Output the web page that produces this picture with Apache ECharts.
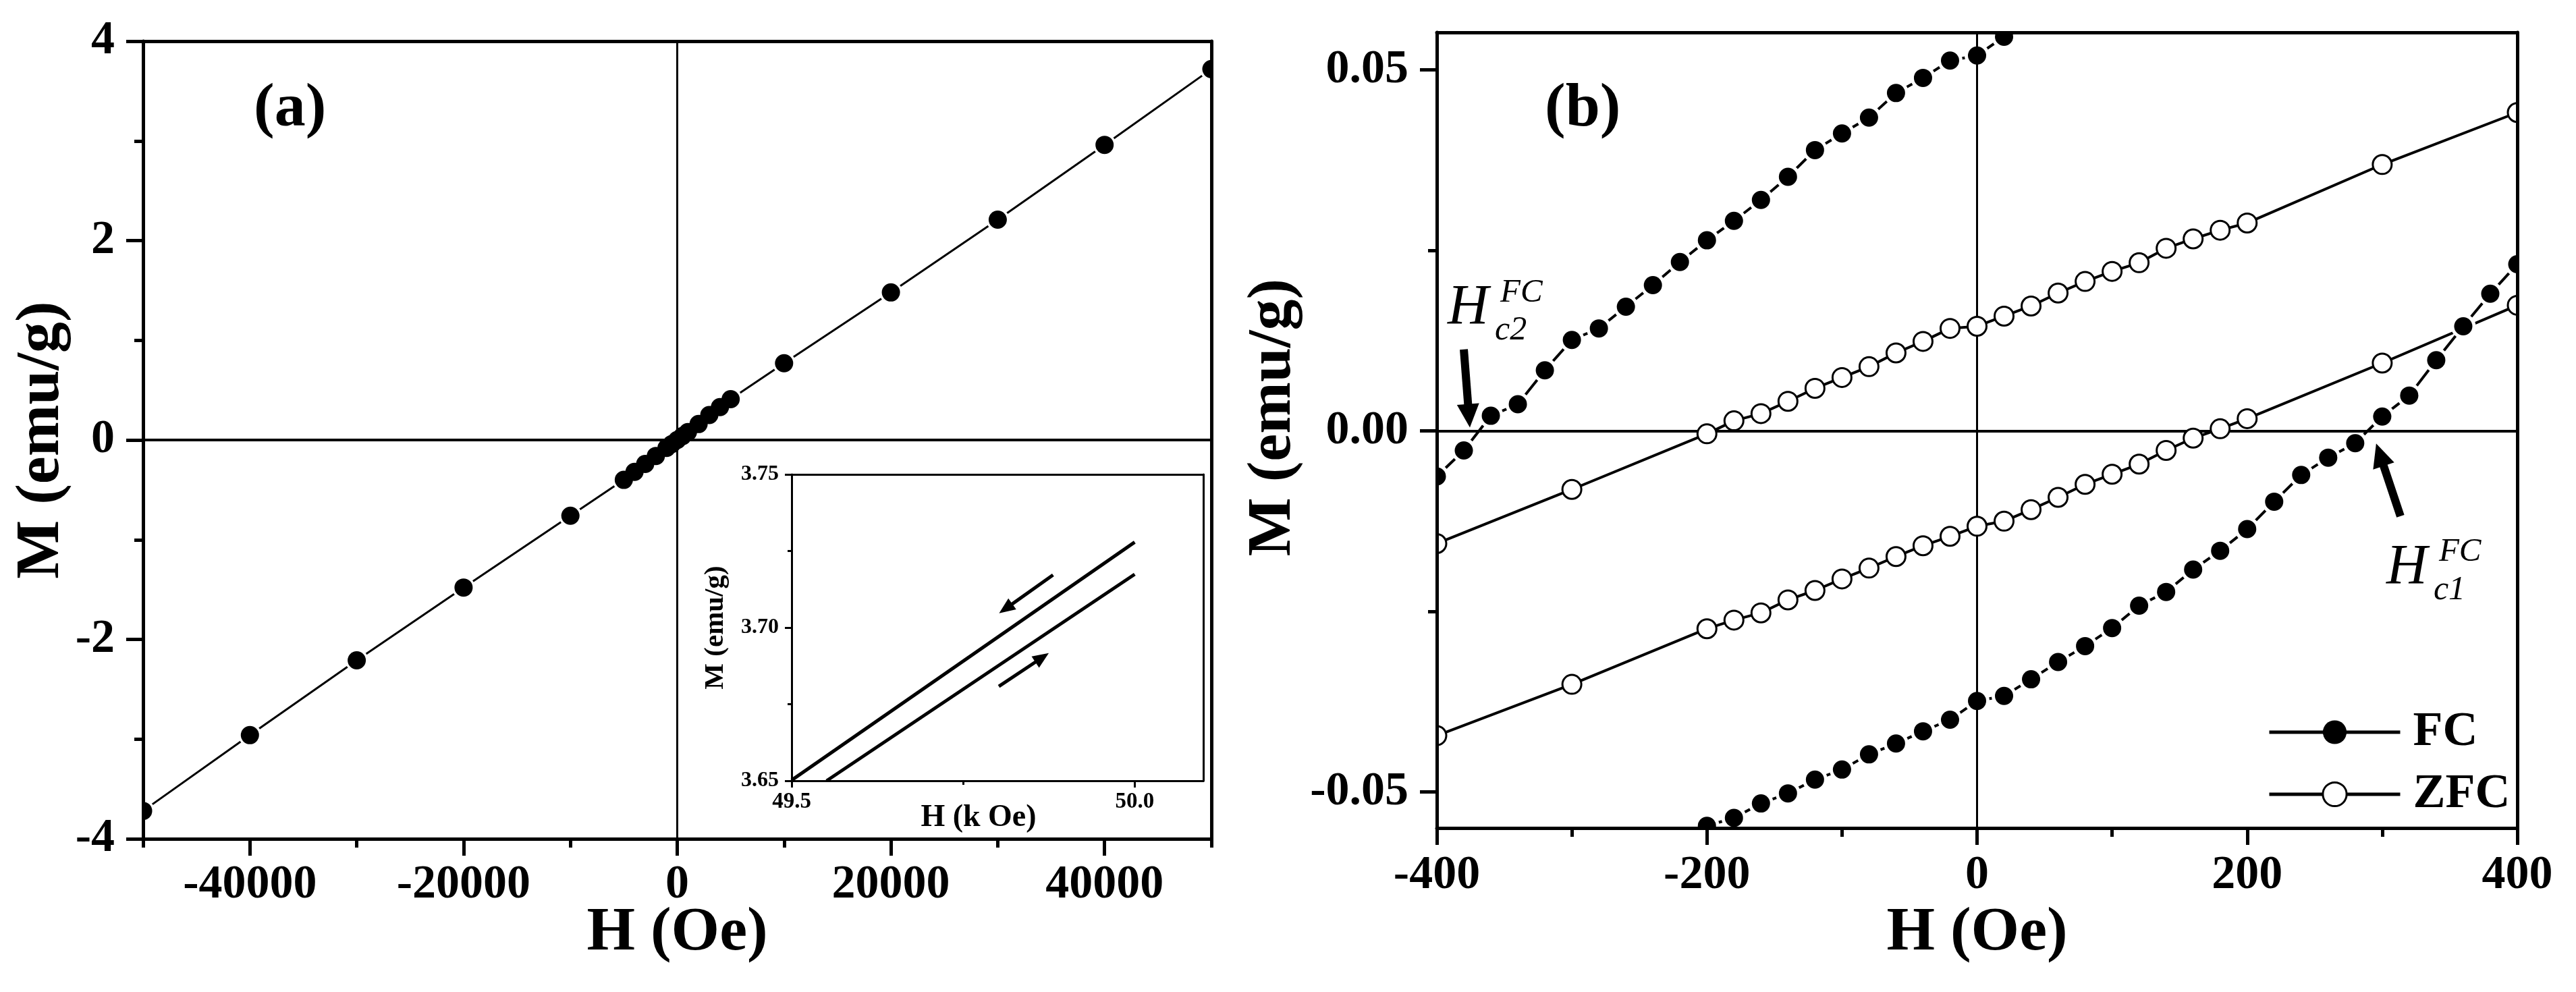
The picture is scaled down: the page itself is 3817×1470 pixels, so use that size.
<!DOCTYPE html>
<html>
<head>
<meta charset="utf-8">
<title>M-H loops</title>
<script src="https://cdn.jsdelivr.net/npm/echarts@6.0.0/dist/echarts.min.js"></script>
<style>
  html, body { margin: 0; padding: 0; background: #fff; }
  #chart { width: 3817px; height: 1470px; }
</style>
</head>
<body>
<div id="chart"></div>
<script>
// (a) full loop, H in Oe, M in emu/g
const aField = [-50000, -40000, -30000, -20000, -10000, -5000, -4000, -3000, -2000, -1000, -500, 0,
  500, 1000, 2000, 3000, 4000, 5000, 10000, 20000, 30000, 40000, 50000];
const aMoment = [-3.72, -2.96, -2.21, -1.48, -0.76, -0.40, -0.32, -0.24, -0.16, -0.08, -0.04, 0,
  0.04, 0.08, 0.16, 0.25, 0.33, 0.41, 0.77, 1.48, 2.21, 2.96, 3.72];

// inset, H in kOe
const insetUpField = [49.5, 50.0];
const insetUpMoment = [3.6502, 3.7279];
const insetLowField = [49.551, 50.0];
const insetLowMoment = [3.65, 3.7174];

// (b) low field part, FC and ZFC branches
const fcUpField = [-400, -380, -360, -340, -320, -300, -280, -260, -240, -220, -200, -180, -160, -140,
  -120, -100, -80, -60, -40, -20, 0, 20];
const fcUpMoment = [-0.0063, -0.0027, 0.0021, 0.0037, 0.0084, 0.0126, 0.0142, 0.0172, 0.0202, 0.0234,
  0.0264, 0.0291, 0.0320, 0.0352, 0.0389, 0.0412, 0.0434, 0.0468, 0.0489, 0.0513, 0.0520, 0.0546];
const fcLowField = [-200, -180, -160, -140, -120, -100, -80, -60, -40, -20, 0, 20, 40, 60, 80, 100, 120,
  140, 160, 180, 200, 220, 240, 260, 280, 300, 320, 340, 360, 380, 400];
const fcLowMoment = [-0.0547, -0.0536, -0.0516, -0.0502, -0.0483, -0.0469, -0.0448, -0.0433, -0.0416,
  -0.0400, -0.0374, -0.0367, -0.0344, -0.0320, -0.0298, -0.0273, -0.0242, -0.0223, -0.0192, -0.0166,
  -0.0136, -0.0098, -0.0061, -0.0037, -0.0017, 0.0020, 0.0049, 0.0098, 0.0145, 0.0190, 0.0231];
const zfcField = [-400, -300, -200, -180, -160, -140, -120, -100, -80, -60, -40, -20, 0, 20, 40, 60, 80,
  100, 120, 140, 160, 180, 200, 300, 400];
const zfcUpMoment = [-0.0156, -0.0081, -0.0004, 0.0014, 0.0024, 0.0041, 0.0059, 0.0074, 0.0089, 0.0108,
  0.0124, 0.0142, 0.0145, 0.0159, 0.0173, 0.0191, 0.0207, 0.0221, 0.0233, 0.0253, 0.0266, 0.0278,
  0.0288, 0.0369, 0.0441];
const zfcLowMoment = [-0.0422, -0.0351, -0.0274, -0.0262, -0.0252, -0.0234, -0.0221, -0.0205, -0.0190,
  -0.0174, -0.0159, -0.0146, -0.0132, -0.0125, -0.0109, -0.0092, -0.0074, -0.0060, -0.0046, -0.0027,
  -0.0010, 0.0003, 0.0017, 0.0094, 0.0174];

// ticks
const aXTicks = [-40000, -20000, 0, 20000, 40000];
const aXMinor = [-50000, -30000, -10000, 10000, 30000, 50000];
const insetXTicks = [49.5, 50.0];
const insetXMinor = [49.75];
const insetYTicks = [3.65, 3.70, 3.75];
const insetYMinor = [3.675, 3.725];
const bYTicks = [-0.05, 0, 0.05];
const bYMinor = [-0.025, 0.025];

// annotations (data units)
const hc2Label = ['H', 'FC', 'c2'];
const hc2Anchor = [[-392, 0.01293], [-353, 0.01685], [-357, 0.01153]];
const hc1Label = ['H', 'FC', 'c1'];
const hc1Anchor = [[303, -0.0230], [342, -0.0191], [338, -0.0244]];
const hc2Arrow = [[-380, 0.0113], [-376.2, 0.0021]];
const hc1Arrow = [[313.5, -0.0118], [298.3, -0.0033]];
const insetDownArrow = [[49.881, 3.7172], [49.812, 3.7062]];
const insetUpArrow = [[49.802, 3.6808], [49.865, 3.6902]];

const font = "'Liberation Serif', 'Times New Roman', serif";
const black = '#000';
const pairs = (xs, ys) => xs.map((x, i) => [x, ys[i]]);

const aPts = pairs(aField, aMoment);
const fcUp = pairs(fcUpField, fcUpMoment);
const fcLow = pairs(fcLowField, fcLowMoment);
const zfcUp = pairs(zfcField, zfcUpMoment);
const zfcLow = pairs(zfcField, zfcLowMoment);

const labelStyle = (size, margin, fmt, values) => ({
  show: true, customValues: values, margin: margin, formatter: fmt,
  fontFamily: font, fontSize: size, fontWeight: 'bold', color: black
});
const nameStyle = (size, padding) => ({
  fontFamily: font, fontSize: size, fontWeight: 'bold', color: black, padding: padding || 0
});

// axis with only its line (top / right frame)
function frameAxis(grid, pos, width) {
  return {
    type: 'value', gridIndex: grid, position: pos, z: 10,
    axisLine: { show: true, onZero: false, lineStyle: { color: black, width: width } },
    axisTick: { show: false }, axisLabel: { show: false }, splitLine: { show: false }
  };
}
// axis with only ticks (minor ticks)
function minorAxis(grid, pos, min, max, values, len, width) {
  return {
    type: 'value', gridIndex: grid, position: pos, min: min, max: max, z: 10,
    axisLine: { show: false, onZero: false },
    axisTick: { show: true, customValues: values, length: len, lineStyle: { color: black, width: width } },
    axisLabel: { show: false }, splitLine: { show: false }
  };
}

function dots(name, data, xi, yi, r, style, z) {
  return {
    name: name, type: 'custom', xAxisIndex: xi, yAxisIndex: yi, z: z, clip: true, silent: true,
    data: data, encode: { x: 0, y: 1 },
    renderItem: function (params, api) {
      const p = api.coord([api.value(0), api.value(1)]);
      return { type: 'circle', shape: { cx: p[0], cy: p[1], r: r }, style: style };
    }
  };
}

function arrow(a, head) {
  return [{ coord: a[0], symbol: 'none' }, { coord: a[1], symbol: 'triangle', symbolSize: head }];
}

function annotation(labels, anchors, sizes) {
  return labels.map((t, i) => ({
    name: t, coord: anchors[i],
    label: { fontSize: sizes[i] }
  }));
}

const chart = echarts.init(document.getElementById('chart'));

const option = {
  animation: false,
  backgroundColor: '#fff',
  title: [
    { text: '(a)', left: 376, top: 116, padding: 0,
      textStyle: { fontFamily: font, fontSize: 92, fontWeight: 'bold', color: black } },
    { text: '(b)', left: 2289, top: 116, padding: 0,
      textStyle: { fontFamily: font, fontSize: 92, fontWeight: 'bold', color: black } }
  ],
  legend: {
    data: [{ name: 'FC', itemStyle: { borderWidth: 0 } }, { name: 'ZFC', itemStyle: { borderWidth: 3 } }],
    orient: 'vertical', left: 3360, top: 1049, padding: 0,
    itemWidth: 194, itemHeight: 44, itemGap: 20, selectedMode: false,
    lineStyle: { width: 5, color: black },
    textStyle: { fontFamily: font, fontSize: 72, fontWeight: 'bold', color: black, padding: [0, 0, 0, 14] }
  },
  grid: [
    { left: 212, top: 61, width: 1583, height: 1182 },
    { left: 1173, top: 703, width: 610, height: 454 },
    { left: 2129, top: 48, width: 1601, height: 1179 }
  ],
  xAxis: [
    { // 0: (a) bottom
      type: 'value', gridIndex: 0, position: 'bottom', min: -50000, max: 50000, z: 10,
      axisLine: { show: true, onZero: false, lineStyle: { color: black, width: 5 } },
      axisTick: { show: true, customValues: aXTicks, length: 25, lineStyle: { color: black, width: 5 } },
      axisLabel: labelStyle(70, 34, v => String(v), aXTicks),
      splitLine: { show: false },
      name: 'H (Oe)', nameLocation: 'middle', nameGap: 94, nameMoveOverlap: false,
      nameTextStyle: nameStyle(92)
    },
    minorAxis(0, 'bottom', -50000, 50000, aXMinor, 13, 5),   // 1
    frameAxis(0, 'top', 5),                                   // 2
    { // 3: inset bottom
      type: 'value', gridIndex: 1, position: 'bottom', min: 49.5, max: 50.1, z: 10,
      axisLine: { show: true, onZero: false, lineStyle: { color: black, width: 3 } },
      axisTick: { show: true, customValues: insetXTicks, length: 10, lineStyle: { color: black, width: 3 } },
      axisLabel: labelStyle(33, 15, v => v.toFixed(1), insetXTicks),
      splitLine: { show: false },
      name: 'H (k Oe)', nameLocation: 'middle', nameGap: 32, nameMoveOverlap: false,
      nameTextStyle: nameStyle(46, [0, 56, 0, 0])
    },
    minorAxis(1, 'bottom', 49.5, 50.1, insetXMinor, 6, 3),   // 4
    frameAxis(1, 'top', 3),                                   // 5
    { // 6: (b) bottom
      type: 'value', gridIndex: 2, position: 'bottom', min: -400, max: 400, interval: 200, z: 10,
      axisLine: { show: true, onZero: false, lineStyle: { color: black, width: 5 } },
      axisTick: { show: true, length: 25, lineStyle: { color: black, width: 5 } },
      minorTick: { show: true, splitNumber: 2, length: 13, lineStyle: { color: black, width: 5 } },
      axisLabel: labelStyle(70, 36, v => String(v)),
      splitLine: { show: false }, minorSplitLine: { show: false },
      name: 'H (Oe)', nameLocation: 'middle', nameGap: 110, nameMoveOverlap: false,
      nameTextStyle: nameStyle(92)
    },
    frameAxis(2, 'top', 5)                                    // 7
  ],
  yAxis: [
    { // 0: (a) left
      type: 'value', gridIndex: 0, position: 'left', min: -4, max: 4, interval: 2, z: 10,
      axisLine: { show: true, onZero: false, lineStyle: { color: black, width: 5 } },
      axisTick: { show: true, length: 25, lineStyle: { color: black, width: 5 } },
      minorTick: { show: true, splitNumber: 2, length: 13, lineStyle: { color: black, width: 5 } },
      axisLabel: labelStyle(70, 42, v => String(v)),
      splitLine: { show: false }, minorSplitLine: { show: false },
      name: 'M (emu/g)', nameLocation: 'middle', nameGap: 104, nameMoveOverlap: false,
      nameTextStyle: nameStyle(92)
    },
    frameAxis(0, 'right', 5),                                 // 1
    { // 2: inset left
      type: 'value', gridIndex: 1, position: 'left', min: 3.65, max: 3.75, z: 10,
      axisLine: { show: true, onZero: false, lineStyle: { color: black, width: 3 } },
      axisTick: { show: true, customValues: insetYTicks, length: 10, lineStyle: { color: black, width: 3 } },
      axisLabel: labelStyle(32, 19, v => v.toFixed(2), insetYTicks),
      splitLine: { show: false },
      name: 'M (emu/g)', nameLocation: 'middle', nameGap: 92, nameMoveOverlap: false,
      nameTextStyle: nameStyle(41)
    },
    minorAxis(1, 'left', 3.65, 3.75, insetYMinor, 6, 3),     // 3
    frameAxis(1, 'right', 3),                                 // 4
    { // 5: (b) left
      type: 'value', gridIndex: 2, position: 'left', min: -0.055, max: 0.0552, z: 10,
      axisLine: { show: true, onZero: false, lineStyle: { color: black, width: 5 } },
      axisTick: { show: true, customValues: bYTicks, length: 25, lineStyle: { color: black, width: 5 } },
      axisLabel: labelStyle(70, 42, v => v.toFixed(2), bYTicks),
      splitLine: { show: false },
      name: 'M (emu/g)', nameLocation: 'middle', nameGap: 196, nameMoveOverlap: false,
      nameTextStyle: nameStyle(92, [0, 0, 0, 38])
    },
    minorAxis(2, 'left', -0.055, 0.0552, bYMinor, 13, 5),    // 6
    frameAxis(2, 'right', 5)                                  // 7
  ],
  series: [
    // (a)
    { name: 'aLoop', type: 'line', xAxisIndex: 0, yAxisIndex: 0, data: aPts, symbol: 'none',
      lineStyle: { color: black, width: 3 }, clip: true, silent: true, z: 2 },
    dots('aGap', aPts, 0, 0, 17, { fill: '#fff' }, 3),
    { name: 'aZero', type: 'line', xAxisIndex: 0, yAxisIndex: 0, data: aPts, symbol: 'none',
      lineStyle: { opacity: 0 }, silent: true, z: 4,
      markLine: { silent: true, symbol: 'none', label: { show: false },
        data: [
          { xAxis: 0, lineStyle: { color: black, width: 3, type: 'solid' } },
          { yAxis: 0, lineStyle: { color: black, width: 4, type: 'solid' } }
        ] } },
    dots('aDot', aPts, 0, 0, 13.5, { fill: black }, 5),

    // inset
    { name: 'insetUp', type: 'line', xAxisIndex: 3, yAxisIndex: 2, data: pairs(insetUpField, insetUpMoment),
      symbol: 'none', lineStyle: { color: black, width: 5 }, clip: true, silent: true, z: 2,
      markLine: { silent: true, symbol: 'none', label: { show: false },
        lineStyle: { color: black, width: 5, type: 'solid' },
        data: [arrow(insetDownArrow, [20, 24]), arrow(insetUpArrow, [20, 24])] } },
    { name: 'insetLow', type: 'line', xAxisIndex: 3, yAxisIndex: 2, data: pairs(insetLowField, insetLowMoment),
      symbol: 'none', lineStyle: { color: black, width: 5 }, clip: true, silent: true, z: 2 },

    // (b)
    { name: 'FC', type: 'line', xAxisIndex: 6, yAxisIndex: 5, data: fcUp, symbol: 'circle', showSymbol: false,
      itemStyle: { color: black }, lineStyle: { color: black, width: 4 }, clip: true, silent: true, z: 2 },
    { name: 'FC', type: 'line', xAxisIndex: 6, yAxisIndex: 5, data: fcLow, symbol: 'circle', showSymbol: false,
      itemStyle: { color: black }, lineStyle: { color: black, width: 4 }, clip: true, silent: true, z: 2 },
    { name: 'ZFC', type: 'line', xAxisIndex: 6, yAxisIndex: 5, data: zfcUp, symbol: 'circle', showSymbol: false,
      itemStyle: { color: '#fff', borderColor: black, borderWidth: 3 }, lineStyle: { color: black, width: 4 },
      clip: true, silent: true, z: 2 },
    { name: 'ZFC', type: 'line', xAxisIndex: 6, yAxisIndex: 5, data: zfcLow, symbol: 'circle', showSymbol: false,
      itemStyle: { color: '#fff', borderColor: black, borderWidth: 3 }, lineStyle: { color: black, width: 4 },
      clip: true, silent: true, z: 2 },
    dots('fcGap', fcUp.concat(fcLow), 6, 5, 18.5, { fill: '#fff' }, 3),
    { name: 'bMarks', type: 'line', xAxisIndex: 6, yAxisIndex: 5, data: fcUp, symbol: 'none',
      lineStyle: { opacity: 0 }, silent: true, z: 4,
      markLine: { silent: true, symbol: 'none', label: { show: false },
        lineStyle: { color: black, width: 12, type: 'solid' },
        data: [
          { xAxis: 0, lineStyle: { color: black, width: 3, type: 'solid' } },
          { yAxis: 0, lineStyle: { color: black, width: 4, type: 'solid' } },
          arrow(hc2Arrow, [33, 35]),
          arrow(hc1Arrow, [33, 35])
        ] },
      markPoint: { silent: true, symbol: 'circle', symbolSize: 1,
        itemStyle: { color: 'rgba(0,0,0,0)' },
        label: { show: true, position: 'inside', align: 'left', verticalAlign: 'bottom', formatter: '{b}',
          fontFamily: font, fontStyle: 'italic', color: black },
        data: annotation(hc2Label, hc2Anchor, [84, 49, 50]).concat(annotation(hc1Label, hc1Anchor, [84, 49, 50])) } },
    dots('fcDot', fcUp.concat(fcLow), 6, 5, 13.5, { fill: black }, 5),
    dots('zfcDot', zfcUp.concat(zfcLow), 6, 5, 14, { fill: '#fff', stroke: black, lineWidth: 3 }, 6)
  ]
};

chart.setOption(option);
</script>
</body>
</html>
